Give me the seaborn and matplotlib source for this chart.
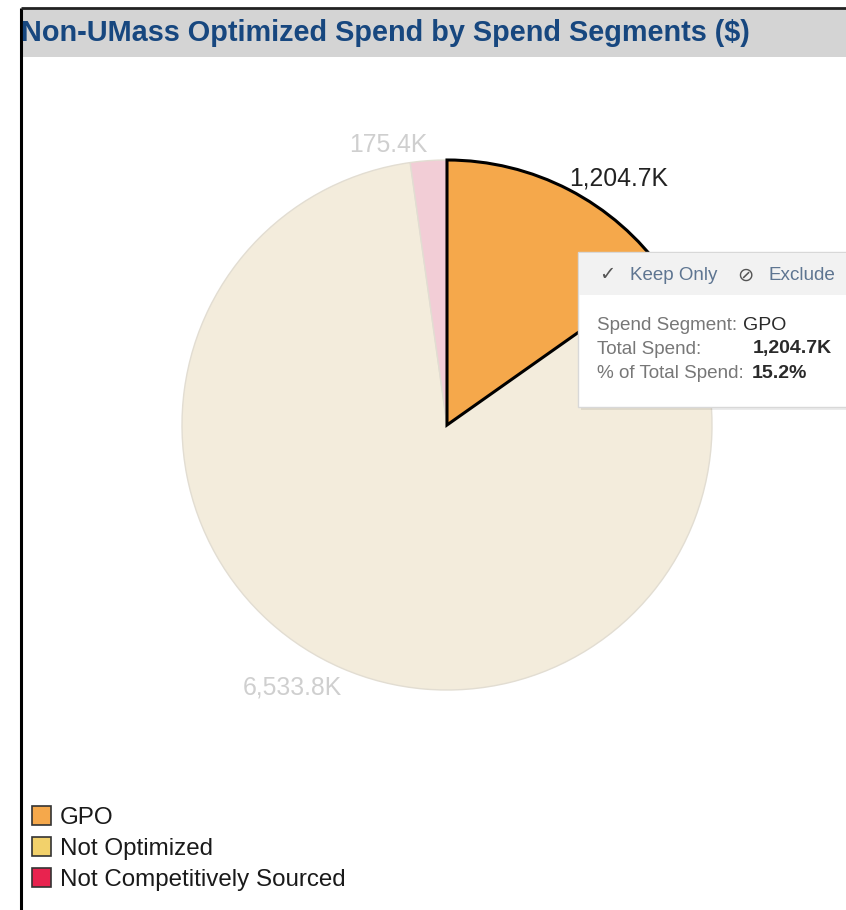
import matplotlib
matplotlib.use("Agg")
import matplotlib.pyplot as plt
from matplotlib.patches import Patch, Rectangle
import seaborn as sns
import numpy as np

# ---- data ----
segments = ["GPO", "Not Optimized", "Not Competitively Sourced"]
spend_k = [1204.7, 6533.8, 175.4]
value_labels = ["1,204.7K", "6,533.8K", "175.4K"]
legend_colors = ["#F5A84B", "#F2D16B", "#E8234F"]
slice_colors = ["#F5A84B", "#F3ECDC", "#F2CDD6"]
label_colors = ["#222222", "#CFCFCF", "#CFCFCF"]
title = "Non-UMass Optimized Spend by Spend Segments ($)"
tooltip_rows = [("Spend Segment:", "GPO", "normal"),
                ("Total Spend:", "1,204.7K", "bold"),
                ("% of Total Spend:", "15.2%", "bold")]

sns.set_theme(style="white")
FAM = ["Liberation Sans", "DejaVu Sans"]
plt.rcParams["font.family"] = FAM

W, H = 846, 910
fig = plt.figure(figsize=(W / 100, H / 100), dpi=100)
fig.patch.set_facecolor("white")

# pie axes: center (447,425), radius 265 px
cx, cy, R = 447, 425, 265
pax = fig.add_axes([(cx - R) / W, (H - cy - R) / H, 2 * R / W, 2 * R / H])
wedges, _ = pax.pie(spend_k, colors=slice_colors, startangle=90, counterclock=False,
                    wedgeprops=dict(linewidth=1.0, edgecolor="#E2DDD2"))
wedges[0].set_edgecolor("black")
wedges[0].set_linewidth(2.2)
wedges[0].set_zorder(5)
pax.set_xlim(-1, 1)
pax.set_ylim(-1, 1)
pax.set_aspect("auto")
pax.axis("off")

lab_r = [1.04, 1.068, 1.06]
lab_rot = [1.0, 1.6, 0.0]  # small angular nudge (degrees)
for w, txt, col, rr, rot in zip(wedges, value_labels, label_colors, lab_r, lab_rot):
    mid = np.deg2rad((w.theta1 + w.theta2) / 2 + rot)
    x, y = rr * np.cos(mid), rr * np.sin(mid)
    pax.text(x, y, txt, ha="left" if x > 0 else "right", va="center",
             fontsize=17.8, color=col, clip_on=False)

# overlay axes in pixel coordinates
ox = fig.add_axes([0, 0, 1, 1], zorder=10)
ox.set_xlim(0, W)
ox.set_ylim(H, 0)
ox.axis("off")
ox.patch.set_alpha(0)

# title bar and borders
ox.add_patch(Rectangle((22, 9), W - 22, 48, facecolor="#D4D4D4", edgecolor="none"))
ox.plot([21, 21], [8, H], color="black", lw=2.2, solid_capstyle="butt")
ox.plot([21, W], [8, 8], color="#222222", lw=2.0, solid_capstyle="butt")
ox.text(21, 33, title, fontsize=20.8, fontweight="bold", color="#17477F",
        ha="left", va="center")

# tooltip
ox.add_patch(Rectangle((581, 255), 280, 155, facecolor="#000000", alpha=0.08, edgecolor="none"))
ox.add_patch(Rectangle((578, 252), 280, 155, facecolor="white", edgecolor="#D8D8D8", lw=1))
ox.add_patch(Rectangle((579, 253), 279, 42, facecolor="#F2F2F2", edgecolor="none"))
ox.text(599, 275, "\u2713", fontsize=14, color="#555555", ha="left", va="center", family=FAM)
ox.text(630, 275, "Keep Only", fontsize=13.5, color="#5E7591", ha="left", va="center")
ox.text(737, 275, "\u2298", fontsize=14, color="#555555", ha="left", va="center", family=["DejaVu Sans"])
ox.text(769, 275, "Exclude", fontsize=13.6, color="#5E7591", ha="left", va="center")
row_y = [325, 349, 373]
val_x = [743, 753, 752]
for (k, v, wgt), yy, vx in zip(tooltip_rows, row_y, val_x):
    ox.text(597, yy, k, fontsize=13.6, color="#777777", ha="left", va="center")
    ox.text(vx, yy, v, fontsize=14, color="#2A2A2A", fontweight=wgt, ha="left", va="center")

# legend
handles = [Patch(facecolor=c, edgecolor="#333333", linewidth=1.2) for c in legend_colors]
leg = fig.legend(handles, segments, loc="upper left", bbox_to_anchor=(27 / W, 1 - 801 / H),
                 frameon=False, fontsize=17.4, handlelength=0.8, handleheight=0.85,
                 handletextpad=0.35, labelspacing=0.33, borderaxespad=0, borderpad=0.2)
for t in leg.get_texts():
    t.set_color("#1a1a1a")

fig.savefig("out.png", dpi=100)
